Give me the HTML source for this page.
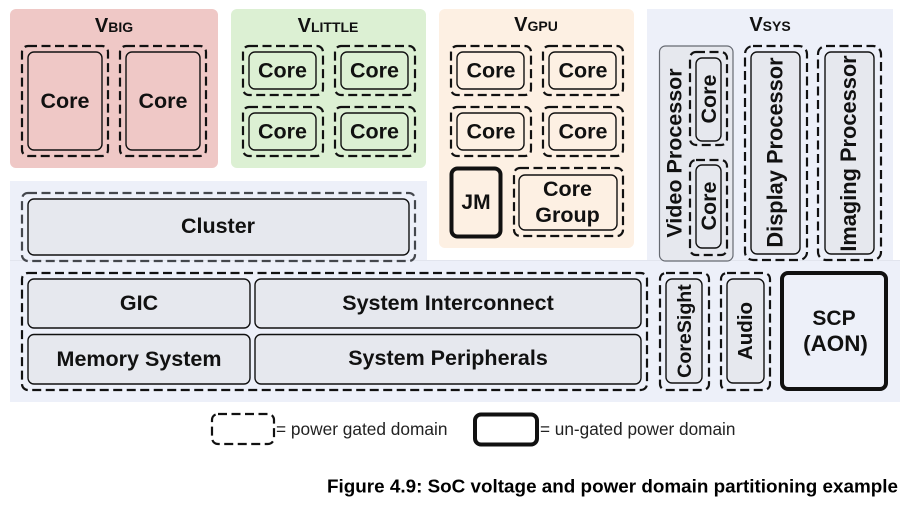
<!DOCTYPE html>
<html><head><meta charset="utf-8"><style>
html,body{margin:0;padding:0;background:#fff;width:907px;height:507px;overflow:hidden}
svg{display:block}
text{font-family:"Liberation Sans",sans-serif;fill:#111;text-anchor:middle}
.b{font-weight:700;font-size:21.5px}
.t{font-weight:700;font-size:20px}
.s{font-size:14px}
.d{fill:none;stroke:#111;stroke-width:2.2;stroke-dasharray:9 4.5}
.i{fill:none;stroke:#111;stroke-width:1.4}
.g{fill:#e6e8ee;stroke:#111;stroke-width:1.4}
</style></head><body>
<svg width="907" height="507" viewBox="0 0 907 507" xmlns="http://www.w3.org/2000/svg">
<rect x="10" y="9" width="208" height="159" rx="6" fill="#efc8c6"/>
<rect x="231" y="9" width="195" height="159" rx="6" fill="#dcf0d3"/>
<rect x="439" y="9" width="195" height="239" rx="6" fill="#fdf0e3"/>
<rect x="647" y="9" width="246" height="252" fill="#edf0f9"/>
<rect x="10" y="181" width="417" height="80" fill="#edf0f9"/>
<rect x="10" y="260" width="890" height="142" fill="#edf0f9"/>
<line x1="10" y1="260.5" x2="900" y2="260.5" stroke="#e2e5ee" stroke-width="1"/>

<text x="114" y="32" class="t">V<tspan class="s">BIG</tspan></text>
<text x="328" y="32" class="t">V<tspan class="s">LITTLE</tspan></text>
<text x="536" y="31" class="t">V<tspan class="s">GPU</tspan></text>
<text x="770" y="31" class="t">V<tspan class="s">SYS</tspan></text>

<rect class="d" x="22" y="46" width="86" height="110" rx="6"/>
<rect class="i" x="28" y="52" width="74" height="98" rx="6"/>
<text class="b" x="65" y="108">Core</text>
<rect class="d" x="120" y="46" width="86" height="110" rx="6"/>
<rect class="i" x="126" y="52" width="74" height="98" rx="6"/>
<text class="b" x="163" y="108">Core</text>

<rect class="d" x="243" y="46" width="80" height="49" rx="6"/>
<rect class="i" x="249" y="52" width="67" height="37" rx="6"/>
<text class="b" x="282.5" y="77.5">Core</text>
<rect class="d" x="335" y="46" width="80" height="49" rx="6"/>
<rect class="i" x="341" y="52" width="67" height="37" rx="6"/>
<text class="b" x="374.5" y="77.5">Core</text>
<rect class="d" x="243" y="107" width="80" height="49" rx="6"/>
<rect class="i" x="249" y="113" width="67" height="37" rx="6"/>
<text class="b" x="282.5" y="138.5">Core</text>
<rect class="d" x="335" y="107" width="80" height="49" rx="6"/>
<rect class="i" x="341" y="113" width="67" height="37" rx="6"/>
<text class="b" x="374.5" y="138.5">Core</text>

<rect class="d" x="451" y="46" width="80" height="49" rx="6"/>
<rect class="i" x="457" y="52" width="67" height="37" rx="6"/>
<text class="b" x="491" y="77.5">Core</text>
<rect class="d" x="543" y="46" width="80" height="49" rx="6"/>
<rect class="i" x="549" y="52" width="67" height="37" rx="6"/>
<text class="b" x="583" y="77.5">Core</text>
<rect class="d" x="451" y="107" width="80" height="49" rx="6"/>
<rect class="i" x="457" y="113" width="67" height="37" rx="6"/>
<text class="b" x="491" y="138.5">Core</text>
<rect class="d" x="543" y="107" width="80" height="49" rx="6"/>
<rect class="i" x="549" y="113" width="67" height="37" rx="6"/>
<text class="b" x="583" y="138.5">Core</text>

<rect x="451.5" y="168.5" width="49" height="68" rx="6" fill="none" stroke="#111" stroke-width="4"/>
<text x="476" y="209" style="font-weight:700;font-size:21px">JM</text>
<rect class="d" x="514" y="168" width="109" height="68" rx="6"/>
<rect class="i" x="519" y="175" width="98" height="55" rx="6"/>
<text class="b" x="567.5" y="196">Core</text>
<text class="b" x="567.5" y="222">Group</text>

<rect x="659.5" y="46" width="73.5" height="215" rx="6" fill="#e6e8ee" stroke="#666a72" stroke-width="1.2"/>
<rect class="d" x="690" y="52" width="37" height="93" rx="6"/>
<rect class="g" x="696" y="58" width="25" height="83" rx="6"/>
<text class="b" transform="translate(716,99) rotate(-90)">Core</text>
<rect class="d" x="690" y="160" width="37" height="95" rx="6"/>
<rect class="g" x="696" y="165" width="25" height="83" rx="6"/>
<text class="b" transform="translate(716,206) rotate(-90)">Core</text>
<text class="b" transform="translate(681.5,153) rotate(-90)">Video Processor</text>

<rect class="d" x="745" y="46" width="62" height="214" rx="8"/>
<rect class="g" x="751" y="52" width="49" height="202" rx="6"/>
<text transform="translate(782.5,152.5) rotate(-90)" style="font-weight:700;font-size:21.8px">Display Processor</text>
<rect class="d" x="818" y="46" width="63" height="214" rx="8"/>
<rect class="g" x="825" y="52" width="49" height="202" rx="6"/>
<text transform="translate(856,153.5) rotate(-90)" style="font-weight:700;font-size:21.8px">Imaging Processor</text>

<rect x="22" y="193" width="393" height="68" rx="6" fill="none" stroke="#44474d" stroke-width="2.2" stroke-dasharray="9 4.5"/>
<rect class="g" x="28" y="199" width="381" height="56" rx="6"/>
<text class="b" x="218" y="233">Cluster</text>

<rect class="d" x="22" y="273" width="625" height="117" rx="6"/>
<rect class="g" x="28" y="279" width="222" height="49" rx="6"/>
<text class="b" x="139" y="310">GIC</text>
<rect class="g" x="255" y="279" width="386" height="49" rx="6"/>
<text class="b" x="448" y="310">System Interconnect</text>
<rect class="g" x="28" y="334.5" width="222" height="49.5" rx="6"/>
<text class="b" x="139" y="366">Memory System</text>
<rect class="g" x="255" y="334.5" width="386" height="49.5" rx="6"/>
<text class="b" x="448" y="365">System Peripherals</text>

<rect class="d" x="660" y="273" width="49" height="117" rx="6"/>
<rect class="g" x="666" y="279" width="36" height="104" rx="6"/>
<text transform="translate(691,331) rotate(-90)" style="font-weight:700;font-size:19.6px">CoreSight</text>
<rect class="d" x="721" y="273" width="49" height="117" rx="6"/>
<rect class="g" x="727" y="279" width="37" height="104" rx="6"/>
<text transform="translate(752,331) rotate(-90)" style="font-weight:700;font-size:20.5px">Audio</text>
<rect x="782" y="273" width="104" height="116" rx="6" fill="#edf0f9" stroke="#111" stroke-width="4"/>
<text x="834" y="325" style="font-weight:700;font-size:21px">SCP</text>
<text x="835.5" y="351" style="font-weight:700;font-size:22.4px">(AON)</text>

<rect class="d" x="212" y="414" width="62" height="30" rx="6"/>
<text x="276" y="435" style="text-anchor:start;font-size:17.3px;fill:#222">= power gated domain</text>
<rect x="475" y="414.5" width="62" height="30" rx="6" fill="none" stroke="#111" stroke-width="4"/>
<text x="540" y="435" style="text-anchor:start;font-size:17.2px;fill:#222">= un-gated power domain</text>
<text x="327" y="492.5" textLength="571" lengthAdjust="spacingAndGlyphs" style="text-anchor:start;font-weight:700;font-size:18.6px;fill:#000">Figure 4.9: SoC voltage and power domain partitioning example</text>
</svg>
</body></html>
